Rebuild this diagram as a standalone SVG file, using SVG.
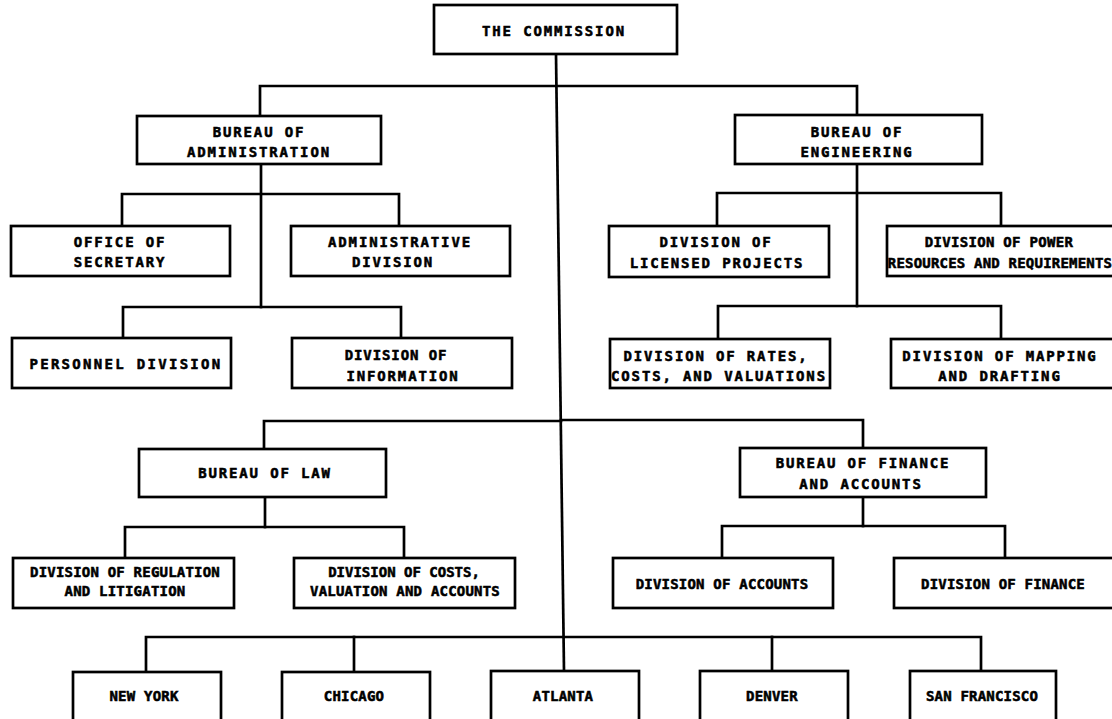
<svg xmlns="http://www.w3.org/2000/svg" width="1112" height="719" viewBox="0 0 1112 719">
  <style>
    .box { fill: #ffffff; stroke: #000000; stroke-width: 2.7; }
    .wire { fill: none; stroke: #000000; stroke-width: 2.7; stroke-linejoin: miter; stroke-linecap: square; }
    text { font-family: "DejaVu Sans Mono", "Liberation Mono", monospace; font-weight: bold; font-size: 14px; fill: #000000; stroke: #000000; stroke-width: 0.55px; text-anchor: middle; }
    .w { letter-spacing: 1.85px; }
    .t { letter-spacing: 0.2px; }
  </style>
  <rect width="1112" height="719" fill="#ffffff"/>

  <!-- connectors -->
  <g id="connectors" class="wire">
    <path d="M556,54 L564,671"/>
    <path d="M260,116 V86 H857 V115"/>
    <!-- administration branch -->
    <path d="M261,164 V307"/>
    <path d="M122,226 V194 H399 V226"/>
    <path d="M123,338 V307 H401 V338"/>
    <!-- engineering branch -->
    <path d="M857,164 V306"/>
    <path d="M717,226 V193 H1001 V226"/>
    <path d="M718,339 V306 H1001 V339"/>
    <!-- law branch -->
    <path d="M264,449 V421 H561"/>
    <path d="M265,497 V527"/>
    <path d="M125,558 V527 H404 V558"/>
    <!-- finance branch -->
    <path d="M561,420 H863 V448"/>
    <path d="M863,497 V526"/>
    <path d="M722,558 V526 H1005 V558"/>
    <!-- field offices -->
    <path d="M146,672 V637 H981 V671"/>
    <path d="M354,637 V672"/>
    <path d="M772,637 V671"/>
  </g>

  <g id="commission">
    <rect class="box" x="434" y="5" width="243" height="49"/>
    <text class="w" x="554" y="36">THE COMMISSION</text>
  </g>

  <g id="bureau-administration">
    <rect class="box" x="137" y="116" width="244" height="48"/>
    <text class="w" x="259" y="137">BUREAU OF</text>
    <text class="w" x="259" y="157">ADMINISTRATION</text>
  </g>

  <g id="bureau-engineering">
    <rect class="box" x="735" y="115" width="247" height="49"/>
    <text class="w" x="857" y="137">BUREAU OF</text>
    <text class="w" x="857" y="157">ENGINEERING</text>
  </g>

  <g id="office-secretary">
    <rect class="box" x="11" y="226" width="219" height="50"/>
    <text class="w" x="120" y="247">OFFICE OF</text>
    <text class="w" x="120" y="267">SECRETARY</text>
  </g>

  <g id="administrative-division">
    <rect class="box" x="291" y="226" width="219" height="50"/>
    <text class="w" x="400" y="247">ADMINISTRATIVE</text>
    <text class="w" x="393" y="267">DIVISION</text>
  </g>

  <g id="personnel-division">
    <rect class="box" x="12" y="338" width="219" height="50"/>
    <text x="126" y="369" style="letter-spacing:2.3px">PERSONNEL DIVISION</text>
  </g>

  <g id="division-information">
    <rect class="box" x="292" y="338" width="220" height="50"/>
    <text x="396" y="360" style="letter-spacing:0.9px">DIVISION OF</text>
    <text class="w" x="403" y="381">INFORMATION</text>
  </g>

  <g id="division-licensed-projects">
    <rect class="box" x="609" y="226" width="220" height="51"/>
    <text class="w" x="716" y="247">DIVISION OF</text>
    <text class="w" x="717" y="268">LICENSED PROJECTS</text>
  </g>

  <g id="division-power-resources">
    <rect class="box" x="887" y="226" width="232" height="50"/>
    <text x="999" y="247" style="letter-spacing:0.3px">DIVISION OF POWER</text>
    <text class="t" x="1000" y="268">RESOURCES AND REQUIREMENTS</text>
  </g>

  <g id="division-rates">
    <rect class="box" x="610" y="339" width="220" height="49"/>
    <text class="w" x="716" y="361">DIVISION OF RATES,</text>
    <text class="w" x="719" y="381">COSTS, AND VALUATIONS</text>
  </g>

  <g id="division-mapping">
    <rect class="box" x="891" y="339" width="228" height="49"/>
    <text class="w" x="1000" y="361">DIVISION OF MAPPING</text>
    <text class="w" x="1000" y="381">AND DRAFTING</text>
  </g>

  <g id="bureau-law">
    <rect class="box" x="139" y="449" width="247" height="48"/>
    <text class="w" x="265" y="478">BUREAU OF LAW</text>
  </g>

  <g id="division-regulation">
    <rect class="box" x="13" y="558" width="221" height="50"/>
    <text class="t" x="125" y="577">DIVISION OF REGULATION</text>
    <text class="t" x="125" y="596">AND LITIGATION</text>
  </g>

  <g id="division-costs">
    <rect class="box" x="294" y="558" width="221" height="50"/>
    <text x="404" y="577" style="letter-spacing:0px">DIVISION OF COSTS,</text>
    <text class="t" x="405" y="596">VALUATION AND ACCOUNTS</text>
  </g>

  <g id="bureau-finance">
    <rect class="box" x="740" y="448" width="246" height="49"/>
    <text class="w" x="863" y="468">BUREAU OF FINANCE</text>
    <text class="w" x="861" y="489">AND ACCOUNTS</text>
  </g>

  <g id="division-accounts">
    <rect class="box" x="613" y="558" width="220" height="50"/>
    <text class="t" x="722" y="589">DIVISION OF ACCOUNTS</text>
  </g>

  <g id="division-finance">
    <rect class="box" x="894" y="558" width="225" height="50"/>
    <text class="t" x="1003" y="589">DIVISION OF FINANCE</text>
  </g>

  <g id="office-new-york">
    <rect class="box" x="73" y="672" width="148" height="60"/>
    <text class="t" x="144" y="701">NEW YORK</text>
  </g>

  <g id="office-chicago">
    <rect class="box" x="282" y="672" width="148" height="60"/>
    <text class="t" x="354" y="701">CHICAGO</text>
  </g>

  <g id="office-atlanta">
    <rect class="box" x="491" y="671" width="148" height="60"/>
    <text class="t" x="563" y="701">ATLANTA</text>
  </g>

  <g id="office-denver">
    <rect class="box" x="700" y="671" width="148" height="60"/>
    <text class="t" x="772" y="701">DENVER</text>
  </g>

  <g id="office-san-francisco">
    <rect class="box" x="910" y="671" width="146" height="60"/>
    <text class="t" x="982" y="701">SAN FRANCISCO</text>
  </g>
</svg>
